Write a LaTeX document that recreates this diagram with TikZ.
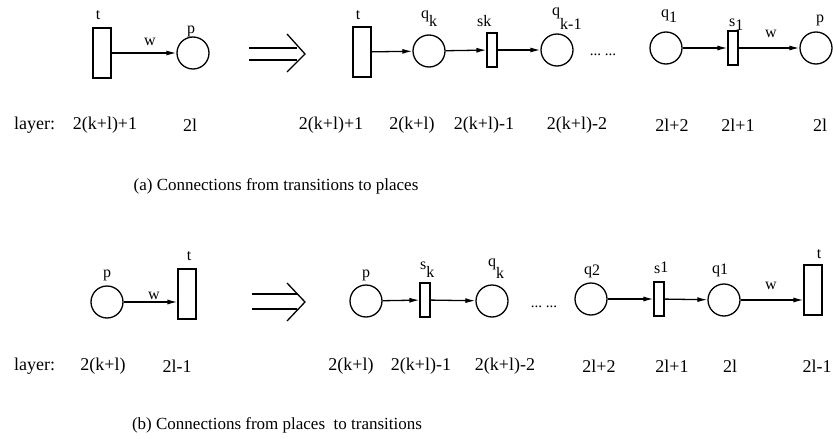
\documentclass[tikz,border=0pt]{standalone}
\usepackage{fontspec}
\setmainfont{Liberation Serif}
\usetikzlibrary{arrows.meta}
\begin{document}
\begin{tikzpicture}[x=1pt,y=-1pt,
  place/.style={circle,draw,line width=1.3pt,minimum size=32pt,inner sep=0pt},
  bigtr/.style={rectangle,draw,line width=1.1pt,minimum width=18pt,minimum height=50pt,inner sep=0pt},
  smalltr/.style={rectangle,draw,line width=1.1pt,minimum width=10pt,minimum height=34pt,inner sep=0pt},
  arc/.style={draw,line width=1.3pt,-{Latex[length=10pt,width=5pt]}},
  lbl/.style={font=\fontsize{16}{18}\selectfont,inner sep=0pt},
  txt/.style={font=\fontsize{18}{21}\selectfont,inner sep=0pt},
  captxt/.style={font=\fontsize{17}{20}\selectfont,inner sep=0pt},
  dotsty/.style={font=\fontsize{15}{17}\selectfont,inner sep=0pt},
  impl/.style={line width=1.3pt}
]
\useasboundingbox (0,0) rectangle (833,439);
% ---------- row (a) ----------
\node[bigtr] (t1) at (102,53) {};
\node[place] (p1) at (193,53) {};
\draw[arc] (t1) -- (p1);
\node[lbl] (t1l) at (98,15) {t};
\node[lbl] (w1l) at (150,42) {w};
\node[lbl] (p1l) at (191,31) {p};

\draw[impl] (249,48) -- (297,48);
\draw[impl] (249,60) -- (297,60);
\draw[impl] (287,34) -- (305,54) -- (287,72);

\node[bigtr] (ta) at (362,52) {};
\node[place] (qk) at (429,51) {};
\node[smalltr] (sk) at (492,50) {};
\node[place] (qk1) at (557,50) {};
\node[dotsty] (dots1) at (603,55) {...\ ...};
\node[place] (q1) at (666,48) {};
\node[smalltr] (s1) at (733,48) {};
\node[place] (pa) at (816,48) {};
\draw[arc] (ta) -- (qk);
\draw[arc] (qk) -- (sk);
\draw[arc] (sk) -- (qk1);
\draw[arc] (q1) -- (s1);
\draw[arc] (s1) -- (pa);
\node[lbl] (tal) at (358,15) {t};
\node[lbl,anchor=base west] (qkl) at (421,18) {q\raisebox{-9pt}{k}};
\node[lbl,anchor=base west] (skl) at (477,26) {s\raisebox{-1pt}{k}};
\node[lbl,anchor=base west] (qk1l) at (552,15) {q\raisebox{-14pt}{k-1}};
\node[lbl,anchor=base west] (q1l) at (661,17) {q\raisebox{-5pt}{1}};
\node[lbl,anchor=base west] (s1l) at (729,26) {s\raisebox{-5pt}{1}};
\node[lbl] (wal) at (771,34) {w};
\node[lbl] (pal) at (820,20) {p};

\node[txt,anchor=west] (lay1) at (14,125) {layer:};
\node[txt] (a1) at (105,125) {2(k+l)+1};
\node[txt] (a2) at (190,125) {2l};
\node[txt] (a3) at (331,125) {2(k+l)+1};
\node[txt] (a4) at (412,125) {2(k+l)};
\node[txt] (a5) at (484,125) {2(k+l)-1};
\node[txt] (a6) at (577,125) {2(k+l)-2};
\node[txt] (a7) at (672,125) {2l+2};
\node[txt] (a8) at (738,125) {2l+1};
\node[txt] (a9) at (820,125) {2l};
\node[captxt] (capa) at (276,186) {(a) Connections from transitions to places};

% ---------- row (b) ----------
\node[place] (p2) at (107,302) {};
\node[bigtr] (t2) at (187,294) {};
\draw[arc] (p2) -- (p2 -| t2.west);
\node[lbl] (p2l) at (107,275) {p};
\node[lbl] (w2l) at (154,296) {w};
\node[lbl] (t2l) at (189,256) {t};

\draw[impl] (252,294) -- (297,294);
\draw[impl] (252,309) -- (297,309);
\draw[impl] (287,283) -- (305,302) -- (287,321);

\node[place] (pb) at (366,301) {};
\node[smalltr] (skb) at (425,300) {};
\node[place] (qkb) at (492,301) {};
\node[dotsty] (dots2) at (544,307) {...\ ...};
\node[place] (q2b) at (591,299) {};
\node[smalltr] (s1b) at (659,299) {};
\node[place] (q1b) at (724,300) {};
\node[bigtr] (tb) at (813,290) {};
\draw[arc] (pb) -- (skb);
\draw[arc] (skb) -- (qkb);
\draw[arc] (q2b) -- (s1b);
\draw[arc] (s1b) -- (q1b);
\draw[arc] (q1b) -- (q1b -| tb.west);
\node[lbl] (pbl) at (366,275) {p};
\node[lbl,anchor=base west] (skbl) at (420,277) {\raisebox{8pt}{s}k};
\node[lbl,anchor=base west] (qkbl) at (488,266) {q\raisebox{-12pt}{k}};
\node[lbl,anchor=base west] (q2bl) at (584,274) {q\raisebox{-1pt}{2}};
\node[lbl,anchor=base west] (s1bl) at (654,273) {s\raisebox{1pt}{1}};
\node[lbl,anchor=base west] (q1bl) at (712,273) {q\raisebox{-1pt}{1}};
\node[lbl] (wbl) at (771,286) {w};
\node[lbl] (tbl) at (819,254) {t};

\node[txt,anchor=west] (lay2) at (14,366) {layer:};
\node[txt] (b1) at (103,366) {2(k+l)};
\node[txt] (b2) at (177,366) {2l-1};
\node[txt] (b3) at (351,366) {2(k+l)};
\node[txt] (b4) at (421,366) {2(k+l)-1};
\node[txt] (b5) at (505,366) {2(k+l)-2};
\node[txt] (b6) at (599,366) {2l+2};
\node[txt] (b7) at (672,366) {2l+1};
\node[txt] (b8) at (730,366) {2l};
\node[txt] (b9) at (817,366) {2l-1};
\node[captxt] (capb) at (277,425) {(b) Connections from places\ \ to transitions};
\end{tikzpicture}
\end{document}
